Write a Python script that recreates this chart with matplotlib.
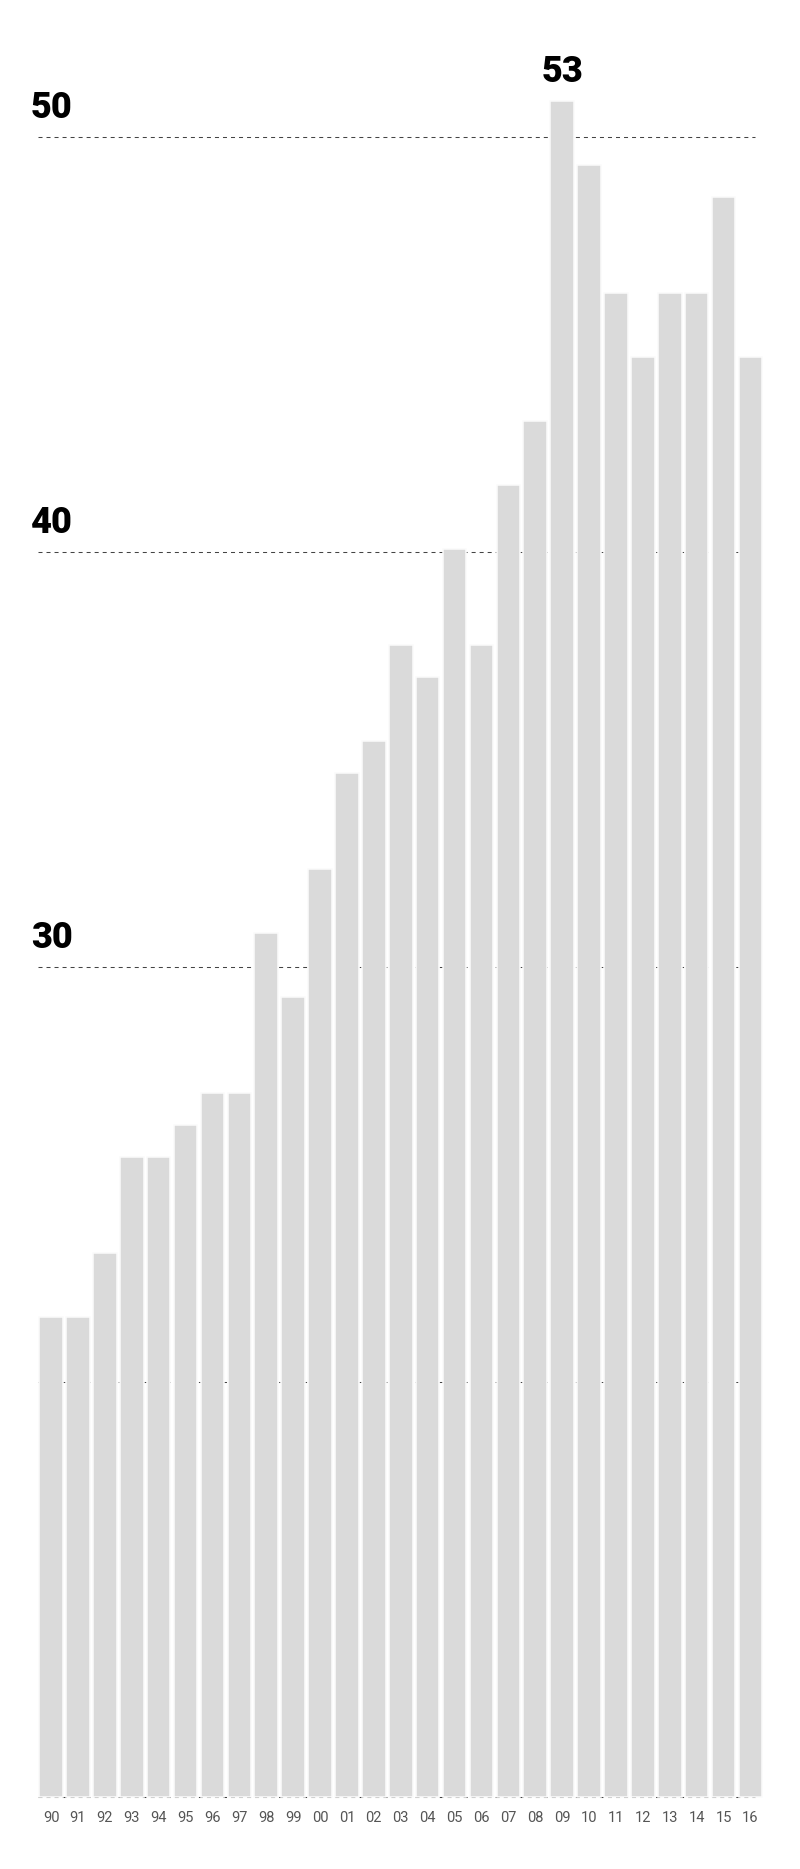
import numpy as np
import matplotlib
matplotlib.use("Agg")
import matplotlib.pyplot as plt

# dane
years = ["90", "91", "92", "93", "94", "95", "96", "97", "98", "99",
         "00", "01", "02", "03", "04", "05", "06", "07", "08", "09",
         "10", "11", "12", "13", "14", "15", "16"]
values = [15, 15, 17, 20, 20, 21, 22, 22, 27, 25,
          29, 32, 33, 36, 35, 39, 36, 41, 43, 53,
          51, 47, 45, 47, 47, 50, 45]
grid_vals = [10, 20, 30, 40, 50]
grid_labels = [30, 40, 50]
grid_scale = 1.297  # siatka ma inna skale niz slupki

plt.rcParams['font.family'] = ['Roboto', 'DejaVu Sans']

W, H = 800, 1869
fig = plt.figure(figsize=(W / 100, H / 100), dpi=100)
ax = fig.add_axes([0, 0, 1, 1])

px_x = 26.9   # piksele na slupek
px_y = 32.0   # piksele na jednostke
x0 = -0.409 - 40 / px_x
y0 = -(H - 1796.7) / px_y
ax.set_xlim(x0, x0 + W / px_x)
ax.set_ylim(y0, y0 + H / px_y)
ax.axis("off")

x = np.arange(len(years))
# biala obwodka zaslania siatke w przerwach
ax.bar(x, values, width=23.6 / px_x, color="#dadada", edgecolor="#fbfbfb",
       linewidth=1.1, zorder=2)

# linie siatki
for g in grid_vals:
    gy = (g - 10) * grid_scale
    ax.axhline(gy, xmin=37.7 / W, xmax=755 / W, color="#444444", lw=0.75,
               linestyle=(0, (3.85, 3.85)), zorder=1)
    if g in grid_labels:
        ax.text(x0 + 31 / px_x, gy + 0.9, str(g), fontsize=26, fontweight="black",
                color="black", ha="left", va="center")

# maksimum
imax = int(np.argmax(values))
ax.text(x[imax], values[imax] + 0.9, str(values[imax]), fontsize=26,
        fontweight="black", color="black", ha="center", va="center")

# etykiety lat
for xi, lab in zip(x, years):
    ax.text(xi, y0 + (H - 1818) / px_y, lab, fontsize=10.5, color="#555555",
            ha="center", va="center")

fig.savefig("out.png", dpi=100, facecolor="white")
